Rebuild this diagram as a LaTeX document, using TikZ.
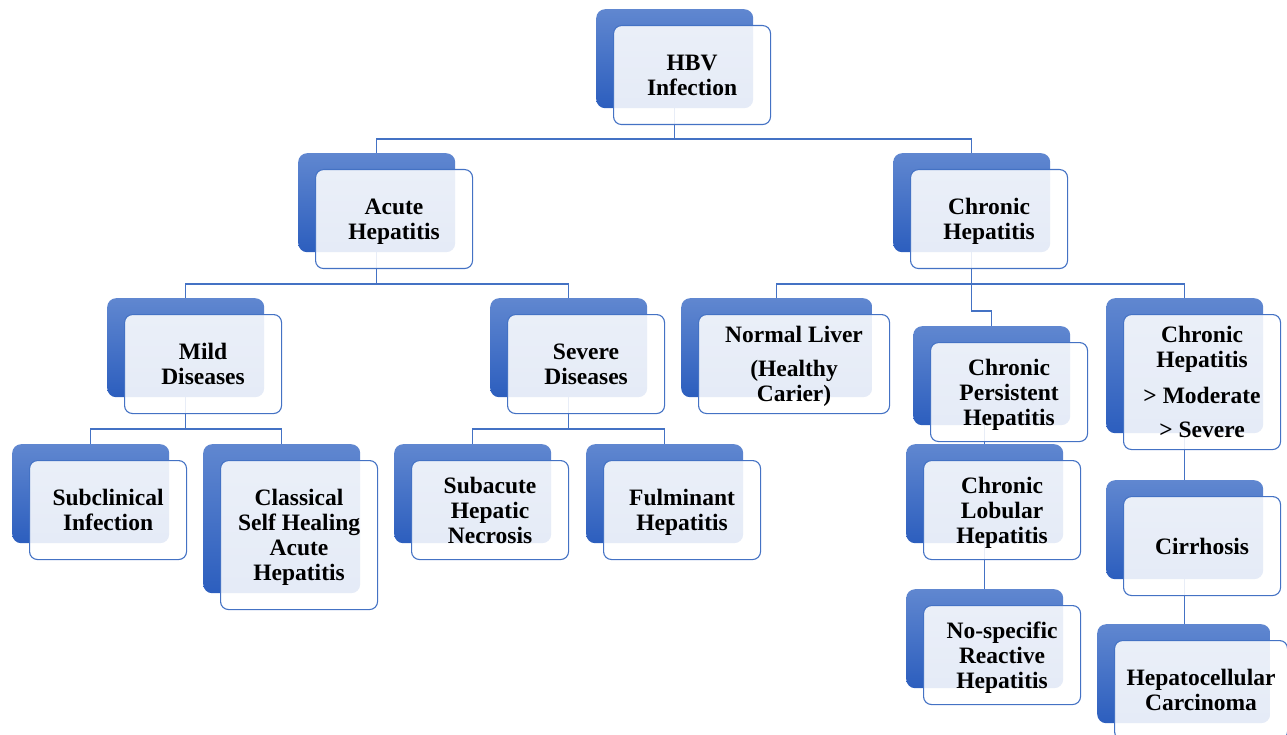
\documentclass[tikz,border=0pt]{standalone}
\usepackage{fontspec}
\setmainfont{Liberation Serif}
\usetikzlibrary{backgrounds}
\definecolor{linec}{RGB}{68,114,196}
\definecolor{btop}{RGB}{96,135,208}
\definecolor{bbot}{RGB}{44,94,190}
\tikzset{
  backbox/.style={rectangle, rounded corners=9pt, draw=none, top color=btop, bottom color=bbot,
    inner sep=0pt, anchor=north west},
  frontbox/.style={rectangle, rounded corners=8pt, draw=linec, line width=1.1pt, fill=white,
    fill opacity=0.88, text opacity=1, inner sep=0pt, anchor=north west, align=center,
    text depth=0pt, font=\fontsize{23.5}{25}\selectfont\bfseries},
  conn/.style={draw=linec, line width=1.2pt}
}
% #1 name, #2 x, #3 y, #4 width, #5 height, #6 text
\newcommand\mkpair[6]{%
  \node[backbox, minimum width=#4pt, minimum height=#5pt] (#1b) at (#2,#3) {};
  \node[frontbox, minimum width=#4pt, minimum height=#5pt] (#1) at ([xshift=17pt,yshift=-16pt]#1b.north west) {#6};
}
\begin{document}
\begin{tikzpicture}[x=1pt,y=-1pt]
\useasboundingbox (0,0) rectangle (1287,735);
\mkpair{hbv}{596}{9}{157}{99}{HBV\\Infection}
\mkpair{acute}{298}{153}{157}{99}{Acute\\Hepatitis}
\mkpair{chronic}{893}{153}{157}{99}{Chronic\\Hepatitis}
\mkpair{mild}{107}{298}{157}{99}{Mild\\Diseases}
\mkpair{severe}{490}{298}{157}{99}{Severe\\Diseases}
\mkpair{normal}{681}{298}{191}{99}{Normal Liver\\[9pt](Healthy\\Carier)}
\mkpair{cph}{913}{326}{157}{99}{Chronic\\Persistent\\Hepatitis}
\mkpair{chms}{1106}{298}{157}{135}{Chronic\\Hepatitis\\[11pt]> Moderate\\[9pt]> Severe}
\mkpair{cirr}{1106}{480}{157}{99}{Cirrhosis}
\mkpair{hcc}{1097}{624}{173}{99}{Hepatocellular\\Carcinoma}
\mkpair{clh}{906}{444}{157}{99}{Chronic\\Lobular\\Hepatitis}
\mkpair{nsr}{906}{589}{157}{99}{No-specific\\Reactive\\Hepatitis}
\mkpair{sub}{12}{444}{157}{99}{Subclinical\\Infection}
\mkpair{cls}{203}{444}{157}{149}{Classical\\Self Healing\\Acute\\Hepatitis}
\mkpair{subac}{394}{444}{157}{99}{Subacute\\Hepatic\\Necrosis}
\mkpair{fulm}{586}{444}{157}{99}{Fulminant\\Hepatitis}
\begin{scope}[on background layer]
  \draw[conn] (hbvb.center) -- (hbvb.center |- 0,139) -| (acuteb.north);
  \draw[conn] (hbvb.center |- 0,139) -| (chronicb.north);
  \draw[conn] (acuteb.center) -- (acuteb.center |- 0,284) -| (mildb.north);
  \draw[conn] (acuteb.center |- 0,284) -| (severeb.north);
  \draw[conn] (chronicb.center) -- (chronicb.center |- 0,284) -| (normalb.north);
  \draw[conn] (chronicb.center |- 0,284) -| (chmsb.north);
  \draw[conn] (chronicb.center |- 0,284) -- (chronicb.center |- 0,311) -| (cphb.north);
  \draw[conn] (mildb.center) -- (mildb.center |- 0,429) -| (subb.north);
  \draw[conn] (mildb.center |- 0,429) -| (clsb.north);
  \draw[conn] (severeb.center) -- (severeb.center |- 0,429) -| (subacb.north);
  \draw[conn] (severeb.center |- 0,429) -| (fulmb.north);
  \draw[conn] (clhb.north |- cphb.center) -- (clhb.north);
  \draw[conn] (clhb.center) -- (nsrb.north);
  \draw[conn] (chmsb.center) -- (cirrb.north);
  \draw[conn] (cirrb.center) -- (cirrb.center |- hccb.north);
\end{scope}
\end{tikzpicture}
\end{document}
